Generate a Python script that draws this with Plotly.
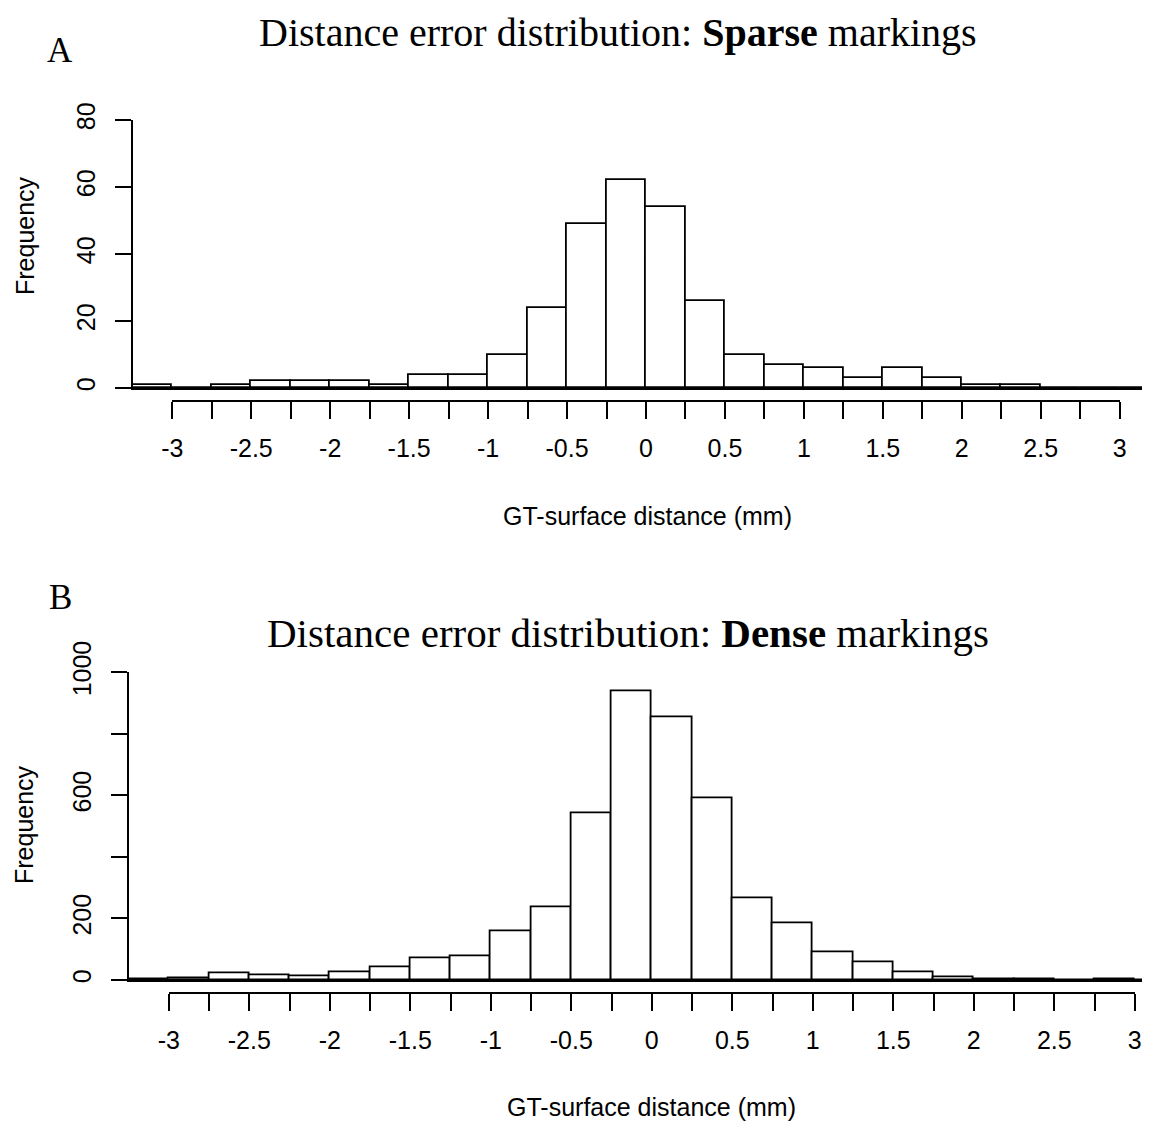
import plotly.graph_objects as go

# ---------------- data ----------------
bin_left = [-3.25, -3.0, -2.75, -2.5, -2.25, -2.0, -1.75, -1.5, -1.25, -1.0, -0.75, -0.5, -0.25,
            0.0, 0.25, 0.5, 0.75, 1.0, 1.25, 1.5, 1.75, 2.0, 2.25, 2.5, 2.75, 3.0]
bin_width = 0.25
sparse_counts = [1, 0, 1, 2, 2, 2, 1, 4, 4, 10, 24, 49, 62,
                 54, 26, 10, 7, 6, 3, 6, 3, 1, 1, 0, 0, 0]
dense_counts = [2, 5, 22, 16, 12, 24, 41, 72, 76, 157, 236, 542, 937,
                853, 589, 266, 183, 90, 57, 26, 8, 3, 1, 0, 1, 0]
x_tick_vals = [-3.0, -2.75, -2.5, -2.25, -2.0, -1.75, -1.5, -1.25, -1.0, -0.75, -0.5, -0.25, 0.0,
               0.25, 0.5, 0.75, 1.0, 1.25, 1.5, 1.75, 2.0, 2.25, 2.5, 2.75, 3.0]
x_tick_text = ["-3", "", "-2.5", "", "-2", "", "-1.5", "", "-1", "", "-0.5", "", "0",
               "", "0.5", "", "1", "", "1.5", "", "2", "", "2.5", "", "3"]
sparse_yticks = [0, 20, 40, 60, 80]
sparse_ytext = ["0", "20", "40", "60", "80"]
dense_yticks = [0, 200, 400, 600, 800, 1000]
dense_ytext = ["0", "200", "", "600", "", "1000"]

title_top = "Distance error distribution: <b>Sparse</b> markings"
title_bottom = "Distance error distribution: <b>Dense</b> markings"
x_title = "GT-surface distance (mm)"
y_title = "Frequency"

# ---------------- layout helpers (window pixel -> paper) ----------------
WIN_W, WIN_H = 1150, 1126
OFF = 8                      # default page body margin around the plot div
W, H = WIN_W - OFF, WIN_H - OFF
def fx(px):
    return (px - OFF) / W
def fy(py):
    return 1 - (py - OFF) / H

SANS = "Liberation Sans, Arial, sans-serif"
SERIF = "Liberation Serif, Times New Roman, serif"
LW = 1.8
centers = [b + bin_width / 2 for b in bin_left]

fig = go.Figure()

# bars
fig.add_trace(go.Bar(x=centers, y=sparse_counts, width=bin_width, xaxis="x", yaxis="y",
                     marker=dict(color="white", line=dict(color="black", width=LW)),
                     showlegend=False, hoverinfo="x+y"))
fig.add_trace(go.Bar(x=centers, y=dense_counts, width=bin_width, xaxis="x2", yaxis="y2",
                     marker=dict(color="white", line=dict(color="black", width=LW)),
                     showlegend=False, hoverinfo="x+y"))
# carriers for the R-style x axes (invisible)
fig.add_trace(go.Scatter(x=x_tick_vals, y=[0] * len(x_tick_vals), xaxis="x3", yaxis="y3",
                         mode="markers", marker=dict(opacity=0), showlegend=False, hoverinfo="skip"))
fig.add_trace(go.Scatter(x=x_tick_vals, y=[0] * len(x_tick_vals), xaxis="x4", yaxis="y4",
                         mode="markers", marker=dict(opacity=0), showlegend=False, hoverinfo="skip"))

# panel geometry (window pixels)
t_left_px, t_ppu = 132.8, 157.9         # pixel of x=-3.25, pixels per unit
t_y0, t_y1 = 388, 120                    # pixels of y=0 and y=80
t_axis_y = 400
b_left_px, b_ppu = 128.5, 161.0
b_y0, b_y1 = 980, 672.3
b_axis_y = 991.7

def bar_xaxis(left_px, ppu, anchor):
    return dict(domain=[fx(left_px), 1.0],
                range=[bin_left[0], bin_left[0] + (WIN_W - left_px) / ppu],
                anchor=anchor, showline=True, linecolor="black", linewidth=LW,
                showticklabels=False, ticks="", showgrid=False, zeroline=False,
                fixedrange=True, automargin=False)

def r_xaxis(left_px, ppu, anchor):
    x3px = left_px + (3.0 - bin_left[0]) * ppu
    xm3px = left_px + (-3.0 - bin_left[0]) * ppu
    return dict(domain=[fx(xm3px), fx(x3px)], range=[-3, 3], anchor=anchor,
                showline=True, linecolor="black", linewidth=LW,
                ticks="outside", ticklen=17, tickwidth=LW, tickcolor="black",
                tickvals=x_tick_vals, ticktext=x_tick_text,
                tickfont=dict(family=SANS, size=25, color="black"),
                ticklabelstandoff=8,
                showgrid=False, zeroline=False, fixedrange=True, automargin=False)

def yaxis(y0px, y1px, rng, tv, tt, anchor):
    return dict(domain=[fy(y0px), fy(y1px)], range=rng, anchor=anchor,
                showline=True, linecolor="black", linewidth=LW,
                ticks="outside", ticklen=16, tickwidth=LW, tickcolor="black",
                tickvals=tv, ticktext=tt, tickangle=-90,
                tickfont=dict(family=SANS, size=25, color="black"),
                ticklabelstandoff=10,
                showgrid=False, zeroline=False, fixedrange=True, automargin=False)

fig.update_layout(
    template="none",
    width=W, height=H,
    margin=dict(l=0, r=0, t=0, b=0, pad=0, autoexpand=False),
    paper_bgcolor="white", plot_bgcolor="rgba(0,0,0,0)",
    bargap=0,
    xaxis=bar_xaxis(t_left_px, t_ppu, "y"),
    yaxis=yaxis(t_y0, t_y1, [0, 80], sparse_yticks, sparse_ytext, "x"),
    xaxis2=bar_xaxis(b_left_px, b_ppu, "y2"),
    yaxis2=yaxis(b_y0, b_y1, [0, 1000], dense_yticks, dense_ytext, "x2"),
    xaxis3=r_xaxis(t_left_px, t_ppu, "y3"),
    yaxis3=dict(domain=[fy(t_axis_y), fy(t_axis_y - 5)], visible=False, range=[0, 1],
                anchor="x3", fixedrange=True, automargin=False),
    xaxis4=r_xaxis(b_left_px, b_ppu, "y4"),
    yaxis4=dict(domain=[fy(b_axis_y), fy(b_axis_y - 5)], visible=False, range=[0, 1],
                anchor="x4", fixedrange=True, automargin=False),
)

def ann(text, xpx, ypx, family, size, angle=0):
    fig.add_annotation(text=text, x=fx(xpx), y=fy(ypx), xref="paper", yref="paper",
                       xanchor="center", yanchor="middle", showarrow=False, textangle=angle,
                       font=dict(family=family, size=size, color="black"))

ann(title_top, 618, 32, SERIF, 40)
ann(title_bottom, 628, 633, SERIF, 41)
ann("A", 60, 50, SERIF, 35)
ann("B", 60, 597, SERIF, 35)
ann(x_title, 647, 516, SANS, 25)
ann(x_title, 651, 1107, SANS, 25)
ann(y_title, 25, 236, SANS, 25, -90)
ann(y_title, 24, 825, SANS, 25, -90)

fig.write_html("out.html")
